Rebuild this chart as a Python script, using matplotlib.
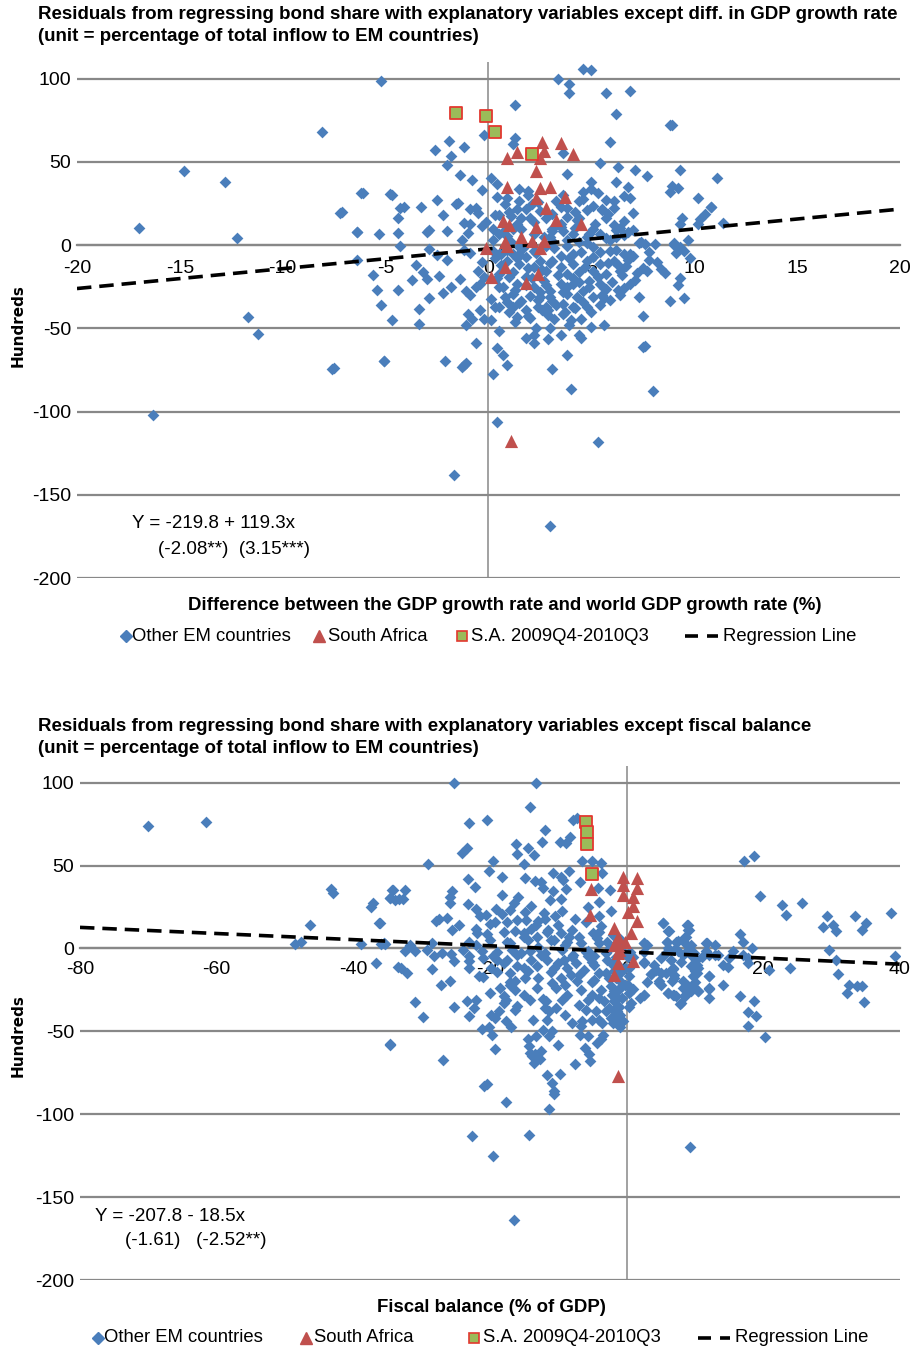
import numpy as np
import matplotlib
matplotlib.use("Agg")
import matplotlib.pyplot as plt
from matplotlib.lines import Line2D

plt.rcParams['font.family'] = ['Liberation Sans', 'DejaVu Sans']
plt.rcParams['axes.unicode_minus'] = False

# ---- top panel: diff. in GDP growth rate (x) vs residual (y, hundreds) ----
top_other = [
    (-5.2, 98.6), (3.4, 100), (4.6, 105.6), (5.0, 105), (3.9, 96.6), (3.9, 91.6), (5.7, 91.2), (6.9, 92.4),
    (1.3, 84.4), (6.2, 78.6), (8.9, 72.4), (-0.2, 66.2), (1.3, 64.2), (1.2, 61), (-1.9, 62.6), (-2.6, 57.2),
    (-1.2, 59), (-1.8, 53.6), (3.6, 55.2), (5.9, 62), (5.4, 49.4), (-2.0, 48), (6.3, 47), (7.1, 45),
    (9.3, 45), (7.7, 41.4), (-1.4, 42.2), (-0.8, 39), (0.1, 40.2), (3.8, 42.8), (0.4, 36.6), (-0.3, 33.4),
    (-6.1, 31.4), (-4.7, 30.2), (-4.8, 31.0), (5.0, 38.2), (6.2, 38.2), (5.0, 34), (6.8, 34.8), (8.9, 35.6),
    (8.8, 31.8), (10.2, 28.4), (10.8, 23.2), (4.6, 32), (5.3, 31.4), (1.5, 33.8), (1.9, 32.6), (0.9, 28.6),
    (0.4, 29), (5.7, 27), (6.1, 26.6), (6.6, 29.4), (6.9, 28.6), (-2.5, 27), (-3.3, 23.2), (-4.3, 22.6),
    (-4.1, 23), (-7.2, 19.6), (-1.6, 24.6), (-1.5, 25.4), (-0.9, 21.8), (-0.6, 22.6), (-2.2, 18.4), (-4.4, 16.6),
    (-0.5, 19.6), (-1.2, 13.2), (-0.9, 12.6), (-0.3, 11.8), (-0.1, 13.8), (7.0, 19.2), (9.4, 16.2), (10.5, 18.6),
    (9.3, 13), (10.2, 13), (6.6, 14.4), (4.8, 21.4), (5.1, 23.4), (5.5, 21), (5.8, 19), (4.2, 20.2),
    (3.5, 23), (-6.4, 8), (-5.3, 6.4), (-4.4, 7.4), (-3.0, 7.8), (-2.9, 9.2), (-2.0, 8.6), (-1.0, 7.2),
    (-1.3, 3.2), (-4.3, -0.8), (-2.9, -2.4), (-2.0, -8.8), (-6.4, -9), (-0.9, -5), (7.3, 1.4), (8.1, 0.8),
    (9.0, 1), (9.1, -5), (9.5, -3.6), (9.7, 3.2), (6.2, 5), (5.9, 2.8), (6.8, 8), (6.2, 9),
    (5.1, 9.6), (4.9, 6.8), (4.1, 6.8), (3.6, 8.2), (3.1, 8.8), (2.0, 16.6), (1.8, 21.8), (1.4, 21.8),
    (1.1, 17.6), (0.5, 18), (0.2, 9.6), (0.5, 6.6), (1.2, 9.6), (1.6, 16.6), (2.1, 24.6), (3.3, 26.6),
    (3.8, 17), (4.4, 16.6), (3.5, 12.6), (4.2, 10.6), (3.0, 4.6), (4.4, 1.6), (5.1, -1.4), (5.4, -4.4),
    (5.9, -3.4), (6.6, -5.4), (7.0, -6.4), (7.8, -8.8), (4.1, -5.4), (3.5, -6.4), (1.5, -5.4), (0.5, -5.4),
    (-5.6, -17.7), (-5.4, -26.9), (-4.4, -26.9), (-5.2, -35.9), (-4.7, -45.2), (-3.7, -20.9), (-3.2, -16.3),
    (-3.0, -20.3), (-2.4, -18.3), (-2.9, -31.7), (-3.4, -38.6), (-3.4, -47.2), (-2.2, -28.9), (-1.8, -25.3),
    (-1.4, -20.3), (-1.1, -27.3), (-0.9, -29.7), (-0.4, -23.3), (-0.2, -19.3), (-0.5, -15.7), (-1.0, -41.2),
    (-0.8, -44.2), (-0.4, -39.2), (-0.2, -44.2), (0.1, -45.2), (-1.1, -48.2), (0.1, -32.3), (0.3, -37.3),
    (0.5, -37.3), (0.9, -34.3), (1.2, -37.3), (1.3, -46.2), (1.9, -42.8), (2.4, -37.3), (2.6, -39.2),
    (2.9, -42.2), (3.2, -44.2), (3.6, -41.2), (4.0, -45.2), (4.5, -44.2), (3.9, -48.2), (3.0, -49.6),
    (2.3, -49.6), (1.8, -55.6), (2.2, -54.2), (2.2, -58.8), (2.9, -56.4), (3.5, -54.2), (4.4, -54.2),
    (4.5, -55.6), (5.0, -49.2), (5.6, -48.2), (0.5, -51.6), (-0.6, -58.8), (0.4, -61.8), (0.7, -66.1),
    (0.9, -72.1), (0.2, -77.5), (-2.1, -69.5), (-1.3, -73.1), (-1.2, -72.1), (-1.1, -71.1), (-5.1, -69.5),
    (-7.5, -73.7), (3.1, -74.7), (3.8, -65.7), (4.0, -86.7), (7.6, -60.8), (8.0, -87.5), (7.5, -42.8),
    (7.3, -31.3), (8.8, -33.7), (9.3, -19.9), (8.4, -14.3), (7.7, -15.3), (7.2, -16.7), (6.7, -12.4),
    (6.3, -26.9), (5.7, -26.3), (5.6, -31.7), (6.9, -23.3), (6.6, -25.7), (6.9, -5.4), (7.6, 0.6),
    (9.0, 0.2), (0.4, -106.4), (5.3, -118.5),
    (-17.0, 10.2), (-14.8, 44.4), (-12.8, 37.8), (-12.2, 4.2), (-11.7, -43.2), (-11.2, -53.4), (-16.3, -102),
    (-8.1, 67.8), (-7.6, -74.4), (-7.1, 19.8), (-6.4, 7.8), (-6.2, 31.2), (-5.1, -69.6), (-1.7, -138),
    (3.0, -168.6), (7.5, -61.2), (8.8, 72), (11.1, 40.2), (11.4, 13.2), (10.8, 22.8), (10.3, 15.6),
    (9.2, 34.2), (9.5, -31.8), (9.2, -24), (9.3, -1.2), (9.8, -7.8),
    (0.9, -9.4), (1.2, -5.4), (1.5, -11.4), (1.8, -7.4), (2.2, -13.3), (2.5, -9.4), (2.8, -15.3), (3.1, -9.4),
    (3.5, -13.3), (3.8, -17.3), (4.1, -11.4), (4.4, -16.3), (4.8, -9.4), (5.1, -15.3), (5.4, -11.4), (5.7, -17.3),
    (6.1, -9.4), (6.4, -15.3), (1.0, -19.3), (1.4, -23.3), (1.8, -19.3), (2.2, -25.3), (2.7, -21.3), (3.0, -27.3),
    (3.5, -23.3), (3.8, -29.3), (4.1, -23.3), (4.6, -27.3), (4.9, -21.3), (5.4, -23.3), (2.5, -31.3), (3.1, -33.3),
    (3.6, -35.3), (1.2, -29.3), (1.6, -33.3), (2.0, -30.3), (0.7, -25.3), (0.5, -17.3), (0.6, -5.4), (0.2, -3.4),
    (4.8, -37.3), (5.1, -31.3), (4.1, -37.3), (2.8, -37.3), (1.8, -39.2), (1.4, -43.2),
    (1.5, -1.4), (2.2, -3.4), (2.8, -0.4), (3.8, -0.4), (4.8, 4.6), (5.4, 6.6), (0.9, 5.6), (2.2, 6.6),
    (3.1, 9.6), (1.4, 12.6), (2.8, 16.6), (3.8, 22.6), (1.5, 26.6), (2.5, 20.6), (5.7, 16.6), (6.1, 22.6),
    (6.4, 10.6), (4.4, 26.6), (3.1, 2.6),
    (0.3, -8), (0.6, -12), (0.9, -3), (1.2, -16), (1.4, -8), (1.7, -2), (1.9, -14), (2.1, -20), (2.3, -5),
    (2.6, -15), (2.8, -24), (3.0, -11), (3.2, -2), (3.4, -18), (3.6, -28), (3.9, -8), (4.1, -20), (4.3, -31),
    (4.5, -4), (4.7, -13), (4.9, -25), (5.1, -7), (5.3, -19), (5.5, -30), (5.8, -11), (6.0, -22), (6.2, -3),
    (6.5, -18), (6.8, -9), (7.1, -21), (0.5, -25), (0.8, -31), (1.0, -40), (1.5, -35), (2.0, -44), (2.4, -33),
    (2.9, -39), (3.3, -36), (3.7, -40), (4.2, -38), (4.6, -34), (5.0, -40), (5.4, -36), (5.9, -33), (6.4, -30),
    (0.2, 3), (0.7, 8), (1.1, 2), (1.6, 10), (2.2, 14), (2.7, 5), (3.1, 19), (3.5, 11), (3.8, 3), (4.3, 15),
    (4.8, 1), (5.2, 13), (5.7, 4), (6.1, 12), (6.6, 6), (7.0, 9), (7.4, 2), (7.8, -4), (8.2, -10), (8.6, -17),
    (1.3, -27), (1.8, -24), (2.5, -28), (3.0, -31), (3.8, -25), (4.4, -22), (5.6, -26), (6.3, -12), (7.5, -14),
    (0.4, -20), (-0.3, -10), (-0.6, -25), (-1.2, -3), (-2.5, -6), (-3.5, -12), (1.0, 20), (2.4, 26), (3.6, 30),
    (4.6, 28), (5.5, 22), (0.8, 25), (1.9, 30), (0.3, 18),
]
top_sa = [
    (2.6, 62), (3.5, 61.2), (1.4, 56.2), (2.7, 56.6), (4.1, 55), (0.9, 52.2), (2.5, 52.4), (2.3, 44.6),
    (0.9, 35), (2.5, 34.4), (3.0, 35), (2.3, 28.6), (3.7, 29.2), (2.8, 22.6), (3.3, 15.4), (4.5, 12.8),
    (0.7, 14.6), (1.0, 12), (2.3, 11.2), (1.6, 5), (0.8, 1.6), (2.1, 2.2), (2.7, 2.6), (-0.1, -2),
    (0.9, -0.4), (2.5, -1.8), (0.8, -13.3), (0.1, -18.9), (2.4, -17.3), (1.8, -22.9), (1.1, -117.5),
]
top_sq = [(-1.6, 79.2), (-0.1, 77.4), (0.3, 68), (2.1, 54.8)]
top_coef = (-219.8, 119.3)

# ---- bottom panel: fiscal balance (x) vs residual (y, hundreds) ----
bot_other = [
    (-25.3, 99.6), (-13.3, 99.6), (-14.2, 85.1), (-23.0, 75.5), (-20.5, 77.5), (-12.0, 71.5), (-7.8, 77.5),
    (-7.2, 78.5), (-16.2, 62.9), (-14.5, 60.4), (-12.4, 64.3), (-9.7, 64.5), (-8.8, 63.9), (-8.3, 67.5),
    (-24.1, 57.8), (-23.3, 60.4), (-16.0, 56.8), (-13.5, 56.4), (-19.6, 52.8), (-29.0, 51), (-15.0, 51),
    (-6.6, 52.8), (-5.0, 52.8), (-3.7, 51.8), (-20.1, 46.8), (-23.2, 41.8), (-18.2, 43.4), (-14.8, 42.8),
    (-13.4, 40.8), (-12.5, 40.2), (-10.8, 45.4), (-9.6, 43), (-9.3, 41), (-8.4, 47), (-6.8, 39.8), (-3.6, 45.4),
    (-22.2, 36.9), (-34.2, 35.3), (-34.6, 30.5), (-32.7, 30.1), (-25.6, 34.9), (-25.8, 30.9), (-25.9, 27.3),
    (-18.2, 32.3), (-15.9, 31.3), (-16.5, 27.3), (-14.0, 25.7), (-12.2, 36.3), (-10.7, 34.9), (-8.9, 35.7),
    (-11.2, 29.3), (-9.6, 29.7), (-4.2, 36.3), (-2.5, 35.3), (-4.1, 28.3), (-5.7, 25.3), (-23.2, 26.9),
    (-22.0, 24.1), (-19.1, 24.1), (-17.1, 23.3), (-14.9, 22.3), (-12.1, 21.3), (-9.4, 22.9), (-21.5, 19.7),
    (-20.6, 20.1), (-18.2, 20.9), (-14.7, 17.3), (-12.9, 16.3), (-10.5, 19.3), (-7.5, 17.7), (-4.1, 19.7),
    (-2.3, 22.9), (-27.5, 17.7), (-26.3, 18.1), (-27.9, 16.7), (-24.6, 14.3), (-25.6, 11.2), (-21.9, 9.6),
    (-20.4, 8.6), (-19.2, 15.7), (-17.5, 15.7), (-16.3, 10.8), (-15.0, 9.6), (-13.3, 14.3), (-11.5, 11.2),
    (-9.6, 9.2), (-8.5, 7.2), (-4.9, 9.2), (-3.8, 13.3), (5.4, 15.3), (6.1, 10.8), (8.8, 14.3), (9.0, 11.2),
    (8.5, 7.2), (7.2, 4.2), (9.4, 2.2), (11.7, 3.6), (5.9, 3.8), (2.5, 3.6), (-36.1, 15.3), (-35.5, 3.6),
    (-31.7, 2.2), (-28.5, 3.2), (-23.1, 4.2), (-17.5, 4.2), (-14.5, 5.2), (-11.6, 10.2), (-13.1, 7.2),
    (-10.6, 5.2), (-8.7, 4.2), (-6.7, 3.2), (-4.3, 6.2), (-2.8, 4.2), (-32.5, -1.8), (-30.9, -1.8),
    (-29.2, -0.8), (-27.0, -2.8), (-25.7, -3.4), (-28.2, -4.8), (-23.0, -4.8), (-21.2, -1.8), (-19.5, -4.8),
    (-16.7, -0.8), (-15.5, -2.8), (-14.1, -1.8), (-12.6, -3.8), (-9.4, -0.8), (-7.9, -3.8), (-5.7, -1.8),
    (-4.8, -4.8), (2.6, -2.4), (5.8, -2.8), (7.5, -1.8), (9.9, -2.8), (12.9, -3.8),
    (-33.0, -11.8), (-32.1, -14.8), (-28.5, -12.4), (-25.2, -7.8), (-23.1, -7.8), (-21.6, -16.4),
    (-27.2, -21.8), (-25.9, -19.8), (-31.0, -32.5), (-29.8, -41.3), (-25.3, -35.5), (-23.3, -31.9),
    (-22.0, -30.9), (-23.0, -40.9), (-22.4, -35.9), (-34.6, -57.9), (-26.8, -67.5), (-21.2, -48.5),
    (-20.2, -47.3), (-19.7, -51.9), (-19.3, -60.9), (-20.9, -83), (-20.5, -82), (-17.6, -92.6),
    (-22.6, -113), (-14.3, -112.4), (-11.3, -97), (-11.6, -76.6), (-9.8, -76), (-10.9, -81.4),
    (-10.6, -86), (-10.6, -88), (-14.5, -54.9), (-14.3, -58.9), (-13.2, -52.9), (-12.6, -61.9),
    (-14.1, -62.9), (-13.9, -64.9), (-13.4, -63.9), (-13.2, -65.9), (-13.6, -69.3), (-12.7, -66.9),
    (-12.3, -49.3), (-11.4, -52.9), (-10.9, -49.9), (-10.1, -58.5), (-7.5, -69.5), (-6.1, -59.9),
    (-5.5, -63.9), (-5.3, -67.9), (-6.8, -51.9), (-5.7, -52.5), (-3.8, -54.9), (-3.5, -51.9), (-4.3, -56.9),
    (-6.7, -46.9), (-6.5, -43.9), (-5.1, -43.3), (-4.0, -42.9), (-3.6, -44.9), (-2.3, -41.9), (-1.0, -47.3),
    (-1.6, -40.9), (-0.8, -42.9), (-1.8, -36.9), (-1.2, -34.9), (-1.8, -31.9), (-1.5, -28.9), (-1.8, -25.9),
    (-0.9, -23.8), (-2.3, -22.8), (0.4, -35.5), (0.4, -26.9), (1.0, -24.4), (0.2, -21.8), (0.4, -16.8),
    (0.3, -11.8), (2.6, -28.3), (2.6, -8.8), (3.5, -15.2), (4.3, -12.8), (4.8, -20.8), (5.8, -14.8),
    (6.0, -26.9), (7.0, -27.9), (7.9, -32.9), (8.5, -27.9), (6.8, -11.8), (8.2, -19.8), (9.5, -23.8),
    (10.4, -25.9), (12.1, -24.4), (12.1, -16.8), (10.0, -13.8), (10.3, -9.8), (9.5, -2.8), (6.5, -6.8),
    (-18.5, -23.8), (-17.1, -21.8), (-16.3, -24.8), (-18.0, -28.9), (-17.6, -30.9), (-18.7, -37.9),
    (-19.9, -39.9), (-19.2, -41.9), (-17.7, -43.9), (-16.9, -47.3), (-16.0, -34.9), (-16.3, -36.9),
    (-14.1, -30.9), (-13.7, -42.9), (-13.1, -23.8), (-12.3, -30.5), (-11.8, -31.9), (-11.4, -37.9),
    (-11.6, -42.9), (-10.4, -35.9), (-9.4, -30.9), (-8.7, -27.9), (-10.9, -20.8), (-10.4, -23.8),
    (-9.6, -17.8), (-8.2, -15.8), (-6.7, -24.8), (-5.7, -30.9), (-5.0, -27.9), (-6.0, -36.9), (-4.5, -37.9),
    (-3.8, -24.8), (-3.3, -31.9), (-2.6, -35.9), (-4.8, -18.8), (-4.0, -14.8), (-6.2, -12.8), (-7.4, -8.8),
    (-4.8, -9.8), (-2.8, -6.8), (-1.8, -13.8), (-5.7, -4.8), (-16.0, -10.8), (-14.5, -13.8), (-13.1, -10.8),
    (-11.6, -6.8), (-10.6, -11.8), (-14.8, -17.8), (-16.3, -19.8), (-17.0, -14.8), (-18.9, -6.8),
    (-19.9, -11.8), (-17.5, -6.8), (-9.2, -6.8), (-8.7, -11.8), (-7.2, -19.8),
    (-19.5, -125), (-16.5, -163.6), (9.3, -119.8),
    (17.2, 52.7), (18.6, 55.9), (19.5, 31.9), (22.7, 26.3), (23.3, 20.3), (25.6, 27.3), (29.3, 19.7),
    (28.7, 12.9), (30.2, 14.3), (30.7, 10.6), (33.4, 19.3), (35.1, 15.6), (34.5, 11.2), (38.7, 21.3),
    (39.3, -4.8), (29.6, -0.8), (30.7, -7.2), (31.0, -15.4), (32.5, -21.8), (32.3, -26.8), (33.7, -22.4),
    (34.4, -22.8), (34.7, -32.2), (23.9, -11.8), (20.9, -12.8), (17.8, -8.8), (17.7, -5.8), (16.6, 8.6),
    (17.1, 4.2), (18.3, 0.2), (17.0, -3.8), (16.6, -28.8), (18.7, -31.4), (17.7, -38.5), (18.9, -40.5),
    (17.8, -46.9), (20.3, -53.5), (15.6, -1.8), (14.1, -9.8), (14.9, -11.2), (14.1, -22), (13.4, -3.8),
    (12.1, -3.8), (12.0, -16.8), (12.1, -23.8), (11.6, 3.6), (11.6, -1.8), (10.4, -25.8), (10.3, -14.8),
    (9.9, -11.8), (9.0, 14.2), (9.2, 11.2), (8.7, 7.2), (8.5, 3.2), (7.5, 4.6), (7.0, -0.8), (6.2, 10.8),
    (5.4, 15.2), (5.9, 4.2), (2.5, 3.2), (2.6, -8.4), (3.5, -15.4), (4.3, -12.8), (5.0, -14.8), (4.8, -19.8),
    (5.1, -21.8), (6.8, -12.4), (7.0, -15.8), (6.6, -19.8), (6.0, -26.8), (6.8, -27.8), (7.2, -28.8),
    (7.8, -33.2), (8.5, -28.8), (8.2, -23.8), (9.0, -22.8), (9.7, -22.8), (9.4, -25.8), (9.7, -16.8),
    (9.4, -10.8), (10.4, -11.8), (10.2, -6.8), (9.4, -3.8), (8.2, -3.8), (9.0, -0.8), (2.5, -27.8),
    (-70.1, 73.9), (-61.6, 76.4), (-43.2, 35.7), (-42.9, 33.3), (-37.4, 24.8), (-37.1, 27.3), (-36.2, 15.2),
    (-34.7, 30.7), (-34.3, 35.3), (-46.4, 14.2), (-48.6, 2.4), (-47.7, 3.8), (-38.9, 2.4), (-35.9, 2.8),
    (-35.3, 2.8), (-36.7, -9), (-33.4, -11.4), (-34.7, -58.1), (-33.3, 29.7), (-33.9, 29.3), (-32.4, 35.3),
    (-24, -1), (-22, 2), (-21, -6), (-20, 5), (-19, -2), (-18, -9), (-17, 3), (-16, -4), (-15, 7), (-14, -7),
    (-13, 1), (-12, -3), (-11, 5), (-10, -9), (-9, 2), (-8, -5), (-7, 7), (-6, -2), (-5, -8), (-4, 3),
    (-3, -3), (-2, -10), (-23, -12), (-21, -17), (-19, -14), (-17, -20), (-15, -12), (-13, -18), (-11, -14),
    (-9, -22), (-7, -16), (-5, -20), (-3, -15), (-22, 12), (-20, 15), (-18, 10), (-16, 17), (-14, 12),
    (-12, 18), (-10, 14), (-8, 11), (-6, 16), (-4, 10), (-2, 8), (-20, -27), (-18, -33), (-15, -28),
    (-12, -36), (-9, -40), (-7, -34), (-4, -30), (-2, -45), (-3, -38), (-8, -45),
    (-1.5, -5), (-1.2, -10), (-1.0, -15), (-0.8, -20), (-1.3, -25), (-0.6, -30), (-1.1, -35), (-0.9, -40),
    (-0.5, -44), (-1.6, -18), (-1.9, -8), (-0.3, -12), (-0.4, -3), (-2.2, -28), (-1.4, -38), (0.2, -5),
    (0.5, -2), (-0.7, 2), (-2.5, 0), (-1.0, 6), (-1.7, -31), (-0.2, -22), (-2.6, -18), (0.6, -33),
    (1, -5), (3, 2), (5, -6), (4, -10), (6, 0), (8, -8), (11, -5), (13, 2), (15, -6), (3, -20), (7, -18),
    (10, -20), (2, -30), (12, -30),
]
bot_sa = [
    (-5.2, 35.7), (-5.4, 19.9), (-0.5, 43), (1.5, 42.4), (-0.5, 38), (1.5, 36.3), (-0.5, 32.3), (1.0, 31.3),
    (1.0, 25.7), (0.2, 22.3), (1.5, 16.3), (0.7, 9.2), (-1.8, 12.2), (-1.2, 7.2), (-0.3, 4.2), (-1.8, 2.2),
    (-1.1, -0.8), (-1.3, 2.2), (-1.2, -2.8), (-1.3, -8.8), (-1.8, -15.8), (0.9, -7.8), (-1.2, -77),
]
bot_sq = [(-6.0, 76.3), (-5.8, 70.3), (-5.8, 63.1), (-5.1, 45)]
bot_coef = (-207.8, -18.5)

legend_labels = ['Other EM countries', 'South Africa', 'S.A. 2009Q4-2010Q3', 'Regression Line']

BLUE = '#4A7EBB'
RED = '#C0504D'
GREEN = '#9BBB59'
SQ_EDGE = '#E2382F'
GRID = '#888888'
W, H = 910, 1349


def draw_panel(ax, other, sa, sq, coef, xlim, xticks, xpad):
    other = np.array(other)
    sa = np.array(sa)
    sq = np.array(sq)
    ax.scatter(other[:, 0], other[:, 1], marker='D', s=36, color=BLUE, linewidths=0, zorder=3)
    xs = np.array(xlim, dtype=float)
    ax.plot(xs, (coef[0] + coef[1] * xs) / 100, color='black', lw=2.6, dashes=(4, 2.2), zorder=4)
    ax.scatter(sa[:, 0], sa[:, 1], marker='^', s=90, color=RED, linewidths=0, zorder=5)
    ax.scatter(sq[:, 0], sq[:, 1], marker='s', s=72, facecolor=GREEN, edgecolor=SQ_EDGE,
               linewidths=1.3, zorder=6)
    ax.set_xlim(xlim)
    ax.set_ylim(-200, 110)
    ax.set_yticks(np.arange(-200, 101, 50))
    ax.set_xticks(xticks)
    ax.set_axisbelow(True)
    ax.grid(axis='y', color=GRID, lw=1.6)
    ax.axvline(0, color=GRID, lw=1.1, zorder=1)
    for s in ['top', 'right', 'left']:
        ax.spines[s].set_visible(False)
    ax.spines['bottom'].set_position(('data', 0))
    ax.spines['bottom'].set_color(GRID)
    ax.spines['bottom'].set_linewidth(1.6)
    ax.tick_params(axis='x', length=0, pad=xpad, labelsize=14)
    ax.tick_params(axis='y', length=0, pad=4, labelsize=14)


def add_legend(fig, y, marker_x, text_x, dash_x):
    # legend drawn by hand so each entry sits where the original put it
    fy = 1 - y / H
    styles = [dict(marker='D', color=BLUE, ms=6),
              dict(marker='^', color=RED, ms=8),
              dict(marker='s', mfc=GREEN, mec=SQ_EDGE, mew=1.2, ms=7)]
    for mx, st in zip(marker_x, styles):
        fig.add_artist(Line2D([mx / W], [fy], ls='none', transform=fig.transFigure, **st))
    fig.add_artist(Line2D([dash_x[0] / W, dash_x[1] / W], [fy, fy], color='black', lw=2.6,
                          dashes=(3.6, 2.5), transform=fig.transFigure))
    for tx, lab in zip(text_x, legend_labels):
        fig.text(tx / W, fy, lab, fontsize=13.3, va='center')


fig = plt.figure(figsize=(9.1, 13.49), dpi=100)

ax1 = fig.add_axes([0.0846, 0.5715, 0.9044, 0.3825])
draw_panel(ax1, top_other, top_sa, top_sq, top_coef, (-20, 20), np.arange(-20, 21, 5), 11)

ax2 = fig.add_axes([0.0879, 0.0511, 0.901, 0.381])
draw_panel(ax2, bot_other, bot_sa, bot_sq, bot_coef, (-80, 40), np.arange(-80, 41, 20), 9)

# titles
fig.text(0.042, 0.9889, 'Residuals from regressing bond share with explanatory variables except diff. in GDP growth rate',
         fontsize=13.5, weight='bold', va='center')
fig.text(0.042, 0.9726, '(unit = percentage of total inflow to EM countries)',
         fontsize=13.5, weight='bold', va='center')
fig.text(0.042, 0.4618, 'Residuals from regressing bond share with explanatory variables except fiscal balance',
         fontsize=13.5, weight='bold', va='center')
fig.text(0.042, 0.4455, '(unit = percentage of total inflow to EM countries)',
         fontsize=13.5, weight='bold', va='center')

# axis titles
fig.text(0.555, 0.5515, 'Difference between the GDP growth rate and world GDP growth rate (%)',
         fontsize=13.4, weight='bold', ha='center', va='center')
fig.text(0.54, 0.0304, 'Fiscal balance (% of GDP)', fontsize=13.4, weight='bold', ha='center', va='center')
fig.text(0.0198, 0.759, 'Hundreds', rotation=90, fontsize=11, weight='bold', ha='center', va='center',
         family='DejaVu Sans')
fig.text(0.0198, 0.232, 'Hundreds', rotation=90, fontsize=11, weight='bold', ha='center', va='center',
         family='DejaVu Sans')

# regression equations
fig.text(0.145, 0.6116, 'Y = -219.8 + 119.3x', fontsize=13.5, va='center')
fig.text(0.1736, 0.593, '(-2.08**)  (3.15***)', fontsize=13.5, va='center')
fig.text(0.1044, 0.0979, 'Y = -207.8 - 18.5x', fontsize=13.5, va='center')
fig.text(0.1374, 0.0808, '(-1.61)   (-2.52**)', fontsize=13.5, va='center')

add_legend(fig, 636, (126, 319, 462), (132, 328, 471, 723), (685, 718))
add_legend(fig, 1338, (98, 306, 474), (104, 314, 483, 735), (698, 730))

fig.savefig('out.png', dpi=100)
